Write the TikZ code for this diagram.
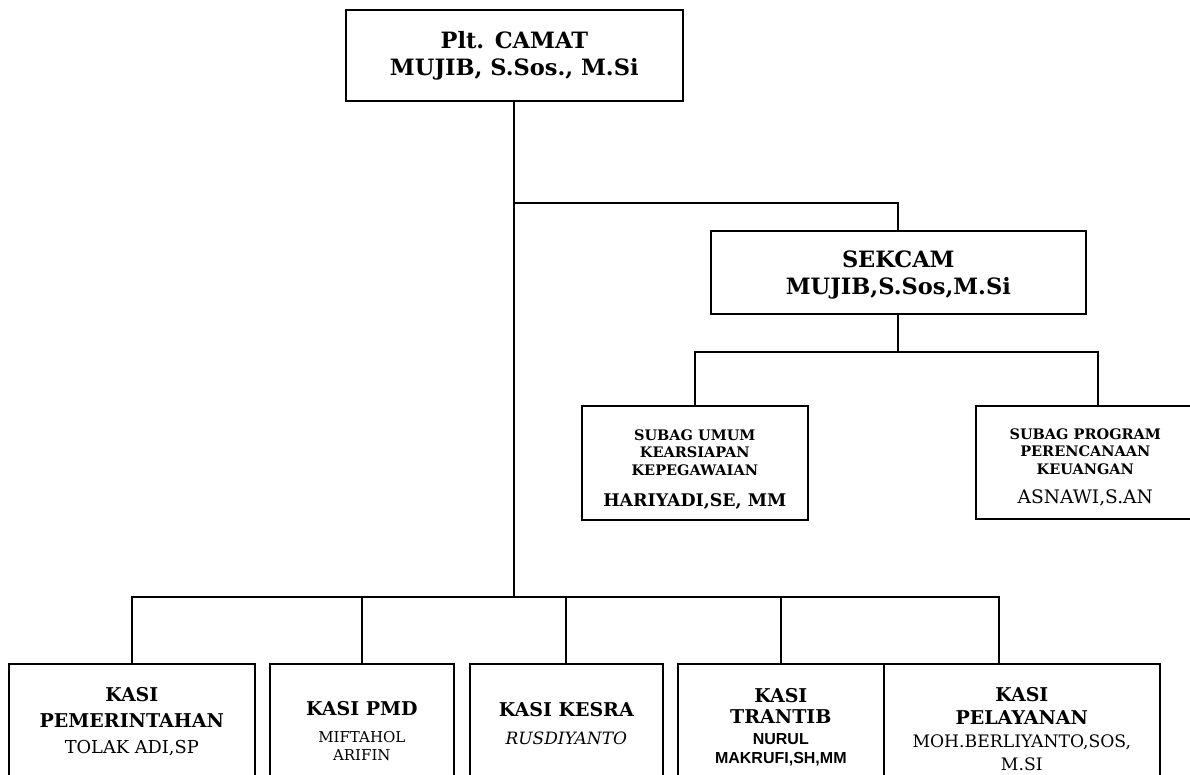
\documentclass[tikz,border=0pt]{standalone}
\usepackage{fontspec}
\setmainfont{DejaVu Serif}
\setsansfont{Liberation Sans}
\usetikzlibrary{positioning}

\newcommand{\fsz}[2]{\fontsize{#1}{#2}\selectfont}
\newcommand{\lift}[1]{\rule{0pt}{#1}}
\newcommand{\pmdname}{\mdseries\fsz{15}{18}}
\newcommand{\tibname}{\sffamily\bfseries\fsz{16}{19}}
\newcommand{\pelname}{\mdseries\fsz{17.2}{23}}

\begin{document}
\begin{tikzpicture}[x=1pt, y=-1pt]
\tikzstyle{box} = [rectangle, draw, line width=1.6pt, align=center, inner sep=0pt, anchor=north west]
\tikzstyle{head} = [box, font=\bfseries\fsz{22.5}{27}]
\tikzstyle{subag} = [box, font=\bfseries\fsz{14.5}{17.5}]
\tikzstyle{kasi} = [box, font=\bfseries\fsz{19}{23}]
\tikzstyle{link} = [draw, line width=1.8pt]

    \useasboundingbox (0,0) rectangle (1190,774);
    \clip (0,0) rectangle (1190,774);
    % Place nodes
    \node [head, minimum width=337pt, minimum height=91pt] (camat) at (345,9)
        {Plt. CAMAT\\MUJIB, S.Sos., M.Si};
    \node [head, minimum width=375pt, minimum height=83pt] (sekcam) at (710,230)
        {\lift{22pt}SEKCAM\\MUJIB,S.Sos,M.Si};
    \node [subag, minimum width=226pt, minimum height=114pt] (umum) at (581,405)
        {\lift{23.5pt}SUBAG UMUM\\KEARSIAPAN\\KEPEGAWAIAN\\[13.5pt]\fsz{17.4}{24}HARIYADI,SE, MM};
    \node [subag, minimum width=219pt, minimum height=113pt] (program) at (975,405)
        {\lift{20pt}SUBAG PROGRAM\\PERENCANAAN\\KEUANGAN\\[11.5pt]\mdseries\fsz{18.6}{24}ASNAWI,S.AN};
    \node [kasi, font=\bfseries\fsz{19}{26}, minimum width=246pt, minimum height=116pt] (pem) at (8,663)
        {KASI\\PEMERINTAHAN\\\mdseries\fsz{17.8}{20}TOLAK ADI,SP};
    \node [kasi, font=\bfseries\fsz{19}{18}, minimum width=184pt, minimum height=135pt] (pmd) at (269,663)
        {KASI PMD\\[9pt]\pmdname MIFTAHOL\\\pmdname ARIFIN};
    \node [kasi, minimum width=193pt, minimum height=120pt] (kesra) at (469,663)
        {KASI KESRA\\[5pt]\mdseries\itshape\fsz{17}{22}RUSDIYANTO};
    \node [kasi, font=\bfseries\fsz{19}{21}, minimum width=206pt, minimum height=127pt] (trantib) at (677,663)
        {KASI\\TRANTIB\\\tibname NURUL\\[-2pt]\tibname MAKRUFI,SH,MM};
    \node [kasi, minimum width=276pt, minimum height=130pt] (pel) at (883,663)
        {KASI\\PELAYANAN\\\pelname MOH.BERLIYANTO,SOS,\\\pelname M.SI};
    \coordinate (mid) at (camat.south |- 0,203);
    \coordinate (low) at (camat.south |- 0,597);
    % Draw edges
    \path [link] (camat.south) -- (low);
    \path [link] (mid) -| (sekcam.north);
    \path [link] (sekcam.south) -- ++(0,37) coordinate (subbar);
    \path [link] (umum.north) |- (subbar) -| ([xshift=13pt]program.north);
    \path [link] (pem.north) |- (low) -| ([xshift=-23pt]pel.north);
    \foreach \b in {pmd,kesra,trantib}
        \path [link] (\b.north) -- (\b.north |- low);
\end{tikzpicture}
\end{document}
